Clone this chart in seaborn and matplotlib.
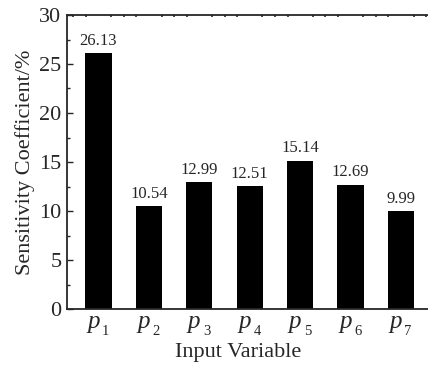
import numpy as np
import pandas as pd
import matplotlib
matplotlib.use("Agg")
import matplotlib.pyplot as plt
from matplotlib.ticker import MultipleLocator
import seaborn as sns

variables = ['p1', 'p2', 'p3', 'p4', 'p5', 'p6', 'p7']
coefficients = [26.13, 10.54, 12.99, 12.51, 15.14, 12.69, 9.99]

sns.set_style("ticks")
plt.rcParams['font.family'] = ['Liberation Serif', 'DejaVu Serif']

df = pd.DataFrame({'variable': variables, 'coef': coefficients})

fig = plt.figure(figsize=(4.28, 3.74), dpi=100)
ax = fig.add_axes([67 / 428, 65 / 374, 365.4 / 428, 294 / 374])

sns.barplot(data=df, x='variable', y='coef', color='black', width=0.52,
            saturation=1, ax=ax, edgecolor='black', linewidth=0)

for c in ax.containers:
    ax.bar_label(c, fmt='%.2f', padding=3, fontsize=12)

ax.set_xlim(-0.625, 6.625)
ax.set_ylim(0, 30)
ax.yaxis.set_major_locator(MultipleLocator(5))
ax.yaxis.set_minor_locator(MultipleLocator(2.5))
ax.xaxis.set_minor_locator(MultipleLocator(0.25))

ax.tick_params(axis='y', which='major', direction='in', length=4, width=1,
               labelsize=16, pad=4)
ax.tick_params(axis='y', which='minor', direction='in', length=2.5, width=1)
ax.tick_params(axis='x', which='major', length=0)
ax.tick_params(axis='x', which='minor', bottom=False, top=True,
               direction='in', length=1.5, width=1.2)

# italic p with a lowered subscript number, like the original labels
ax.set_xticks(range(len(variables)))
ax.set_xticklabels([])
for i, v in enumerate(variables):
    ax.annotate(v[0], xy=(i, 0), xycoords=('data', 'axes fraction'),
                xytext=(-3.8, -14.0), textcoords='offset points',
                ha='center', va='baseline', fontsize=18, style='italic')
    ax.annotate(v[1:], xy=(i, 0), xycoords=('data', 'axes fraction'),
                xytext=(5.2, -19.0), textcoords='offset points',
                ha='center', va='baseline', fontsize=10.5)

for s in ['left', 'bottom', 'top']:
    ax.spines[s].set_linewidth(1.3)
    ax.spines[s].set_visible(True)
ax.spines['right'].set_visible(False)

ax.set_xlabel('Input Variable', fontsize=16)
ax.set_ylabel('Sensitivity Coefficient/%', fontsize=16, labelpad=3)
ax.xaxis.set_label_coords((238 - 67) / 365.4, -(353 - 309) / 294, transform=ax.transAxes)
ax.xaxis.label.set_va('center')

fig.savefig('out.png', dpi=100)
